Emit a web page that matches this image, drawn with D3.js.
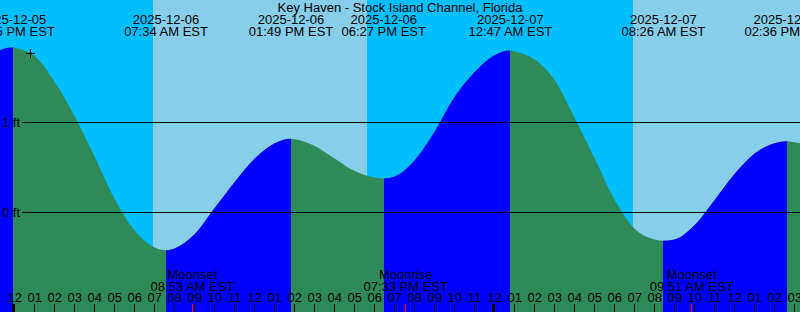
<!DOCTYPE html>
<html>
<head>
<meta charset="utf-8">
<script src="https://cdnjs.cloudflare.com/ajax/libs/d3/7.8.5/d3.min.js"></script>
<style>
  body { margin: 0; overflow: hidden; background: #fff; }
  text { font-family: "Liberation Sans", Arial, Helvetica, sans-serif; font-size: 13px; fill: #000; }
</style>
</head>
<body>
<svg id="chart" width="800" height="312"></svg>
<script>
const parse = d3.timeParse("%Y-%m-%d %H:%M");

const title = "Key Haven - Stock Island Channel, Florida";

// high / low tide events (EST)
const tideEventTimes = ["2025-12-05 23:55", "2025-12-06 07:34", "2025-12-06 13:49", "2025-12-06 18:27",
                        "2025-12-07 00:47", "2025-12-07 08:26", "2025-12-07 14:36"];
const tideEventFt = [1.835, -0.42, 0.82, 0.378, 1.80, -0.315, 0.792];

// tide height each hour, from 2025-12-05 23:00 to 2025-12-07 16:00
const hourlyStart = "2025-12-05 23:00";
const hourlyFt = [1.78, 1.83, 1.74, 1.45, 1.07, 0.62, 0.15, -0.20, -0.39, -0.40, -0.24,
                  0.05, 0.34, 0.60, 0.77, 0.815, 0.74, 0.60, 0.46, 0.39, 0.40,
                  0.58, 0.90, 1.285, 1.56, 1.75, 1.79, 1.70, 1.47, 1.05, 0.60,
                  0.14, -0.18, -0.30, -0.30, -0.14, 0.14, 0.43, 0.655, 0.77, 0.78, 0.74];

const sunriseTimes = ["2025-12-06 06:55", "2025-12-07 06:54"];
const sunsetTimes = ["2025-12-06 17:36", "2025-12-07 17:37"];

const moonTimes = ["2025-12-06 08:53", "2025-12-06 19:33", "2025-12-07 09:51"];
const moonKinds = ["Moonset", "Moonrise", "Moonset"];

const ftTicks = [0, 1];
const nowMark = { time: "2025-12-06 00:46", ft: 1.77 };

const width = 800, height = 312;
const nightColor = "#00BFFF", dayColor = "#87CEEB";
const risingColor = "#0000FF", fallingColor = "#2E8B57";

const svg = d3.select("#chart");

const x = d3.scaleTime()
    .domain([parse("2025-12-06 00:00"), parse("2025-12-07 00:00")])
    .range([14.7, 494.7]);
const y = d3.scaleLinear().domain([0, 1]).range([212.5, 122.5]);
const tStart = x.invert(0), tEnd = x.invert(width);

// sky
svg.append("rect").attr("width", width).attr("height", height).attr("fill", nightColor);
svg.append("g").selectAll("rect")
    .data(sunriseTimes.map((s, i) => [parse(s), parse(sunsetTimes[i])]))
    .enter().append("rect")
    .attr("x", d => Math.round(x(d[0])))
    .attr("width", d => Math.round(x(d[1])) - Math.round(x(d[0])))
    .attr("y", 0).attr("height", height)
    .attr("fill", dayColor);

// tide curve
const events = tideEventTimes.map((s, i) => ({ t: parse(s), ft: tideEventFt[i], ev: true }));
const h0 = parse(hourlyStart);
const hourly = hourlyFt.map((v, i) => ({ t: d3.timeHour.offset(h0, i), ft: v, ev: false }));
const points = events.concat(hourly).sort((a, b) => a.t - b.t);

const area = d3.area()
    .x(d => x(d.t))
    .y0(height)
    .y1(d => y(d.ft))
    .curve(d3.curveMonotoneX);

const defs = svg.append("defs");
svg.append("path").datum(points).attr("d", area).attr("fill", fallingColor);

const breaks = [points[0].t, ...events.map(e => e.t), points[points.length - 1].t];
const breakFt = [points[0].ft, ...events.map(e => e.ft), points[points.length - 1].ft];
for (let i = 0; i < breaks.length - 1; i++) {
    if (breakFt[i + 1] <= breakFt[i]) continue;
    const x0 = Math.round(x(breaks[i])), x1 = Math.round(x(breaks[i + 1]));
    defs.append("clipPath").attr("id", "rise" + i)
        .append("rect").attr("x", x0).attr("y", 0).attr("width", x1 - x0).attr("height", height);
    svg.append("path").datum(points).attr("d", area)
        .attr("fill", risingColor).attr("clip-path", `url(#rise${i})`);
}

// datum lines
svg.append("g").selectAll("line").data(ftTicks).enter().append("line")
    .attr("x1", 22).attr("x2", width)
    .attr("y1", d => y(d)).attr("y2", d => y(d))
    .attr("stroke", "#000").attr("stroke-width", 1);
svg.append("g").selectAll("text").data(ftTicks).enter().append("text")
    .attr("x", 20).attr("y", d => y(d) + 4)
    .attr("text-anchor", "end")
    .text(d => d + " ft");

// now mark
const nx = x(parse(nowMark.time)), ny = y(nowMark.ft);
svg.append("path")
    .attr("d", `M${Math.floor(nx) - 4},${Math.floor(ny) + 0.5}h9M${Math.floor(nx) + 0.5},${Math.floor(ny) - 4}v9`)
    .attr("stroke", "#000").attr("stroke-width", 1);

// title and event labels
svg.append("text").attr("x", width / 2).attr("y", 12).attr("text-anchor", "middle").text(title);
const fmtDate = d3.timeFormat("%Y-%m-%d");
const fmtTime = d3.timeFormat("%I:%M %p EST");
const evLabels = svg.append("g").selectAll("g").data(events).enter().append("g")
    .attr("transform", d => `translate(${x(d.t)},0)`);
evLabels.append("text").attr("y", 23.5).attr("text-anchor", "middle").text(d => fmtDate(d.t));
evLabels.append("text").attr("y", 36).attr("text-anchor", "middle").text(d => fmtTime(d.t));

// moon events
const moon = svg.append("g").selectAll("g")
    .data(moonTimes.map((s, i) => ({ t: parse(s), kind: moonKinds[i] })))
    .enter().append("g")
    .attr("transform", d => `translate(${x(d.t)},0)`);
moon.append("text").attr("y", 278.5).attr("text-anchor", "middle").text(d => d.kind);
moon.append("text").attr("y", 290.5).attr("text-anchor", "middle").text(d => fmtTime(d.t));

// hour axis
const hours = d3.timeHour.range(d3.timeHour.ceil(x.invert(-20)), x.invert(width + 20));
const fmtHour = d3.timeFormat("%I");
svg.append("g").selectAll("text").data(hours).enter().append("text")
    .attr("x", d => x(d)).attr("y", 302)
    .attr("text-anchor", "middle")
    .text(d => fmtHour(d));
svg.append("g").selectAll("rect").data(hours).enter().append("rect")
    .attr("x", d => d.getHours() === 0 ? Math.floor(x(d)) - 2 : Math.floor(x(d)))
    .attr("width", d => d.getHours() === 0 ? 3 : 1)
    .attr("y", 304).attr("height", 8)
    .attr("fill", "#000");
svg.append("g").selectAll("rect").data(moonTimes.map(parse)).enter().append("rect")
    .attr("x", d => Math.floor(x(d))).attr("width", 1)
    .attr("y", 304).attr("height", 8)
    .attr("fill", "#FF0000");
</script>
</body>
</html>
